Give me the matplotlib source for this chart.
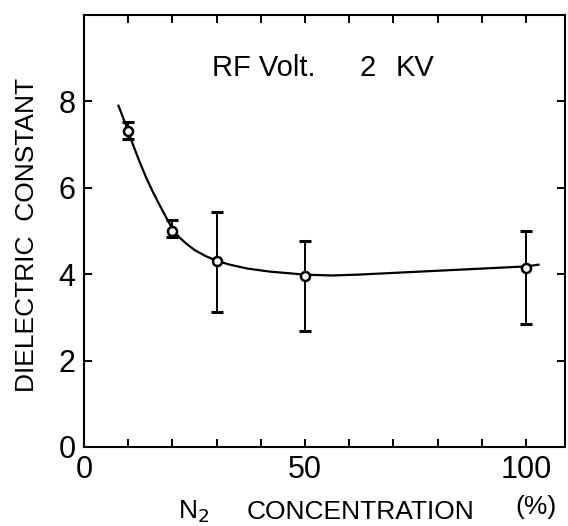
import matplotlib.pyplot as plt
from matplotlib.ticker import MultipleLocator, FixedLocator

plt.rcParams['font.family'] = ['Liberation Sans', 'DejaVu Sans']

# measured points
conc = [10, 20, 30, 50, 100]
eps = [7.31, 4.99, 4.30, 3.96, 4.15]
err_low = [0.18, 0.13, 1.17, 1.27, 1.31]
err_high = [0.22, 0.27, 1.13, 0.82, 0.86]

# hand-drawn fitting curve
curve_x = [7.8, 9.0, 10.0, 11.0, 12.5, 14.0, 15.5, 17.0, 18.5, 20.0, 21.5,
           23.0, 25.0, 27.5, 30.0, 33.0, 37.0, 42.0, 50.0, 56.0, 62.0, 70.0,
           80.0, 90.0, 100.0, 102.8]
curve_y = [7.90, 7.58, 7.32, 7.02, 6.62, 6.25, 5.92, 5.62, 5.33, 5.05, 4.86,
           4.72, 4.56, 4.42, 4.31, 4.22, 4.13, 4.06, 3.99, 3.97, 3.99, 4.03,
           4.08, 4.13, 4.18, 4.22]

fig = plt.figure(figsize=(5.68, 5.26), dpi=100)
ax = fig.add_axes([84 / 568, 1 - 447 / 526, (565 - 84) / 568, (447 - 15) / 526])

ax.plot(curve_x, curve_y, color='black', lw=1.6, zorder=2)
ax.errorbar(conc, eps, yerr=[err_low, err_high], fmt='none', ecolor='black',
            elinewidth=1.4, capsize=4.5, capthick=2.2, zorder=3)
ax.plot(conc, eps, 'o', ms=6.5, mfc='white', mec='black', mew=1.8, zorder=4)

ax.set_xlim(0, 108.8)
ax.set_ylim(0, 10)

ax.xaxis.set_major_locator(FixedLocator([0, 50, 100]))
ax.xaxis.set_minor_locator(MultipleLocator(10))
ax.yaxis.set_major_locator(FixedLocator([0, 2, 4, 6, 8]))
ax.tick_params(which='both', direction='in', top=True, right=True,
               length=6, width=1.4, labelsize=22, pad=6)

for s in ax.spines.values():
    s.set_linewidth(1.5)

ax.text(29, 8.77, 'RF Volt.', fontsize=21, va='center', ha='left')
ax.text(62.4, 8.77, '2', fontsize=21, va='center', ha='left')
ax.text(70.4, 8.77, 'KV', fontsize=21, va='center', ha='left')

fig.text(27 / 568, 1 - 235 / 526, 'DIELECTRIC  CONSTANT', rotation=90,
         fontsize=19, ha='center', va='center')
fig.text(178 / 568, 1 - 512 / 526, 'N$_2$', fontsize=19, ha='left', va='center')
fig.text(247 / 568, 1 - 512 / 526, 'CONCENTRATION', fontsize=19, ha='left', va='center')
fig.text(515 / 568, 1 - 507 / 526, '(%)', fontsize=19, ha='left', va='center')

fig.savefig('out.png', dpi=100)
